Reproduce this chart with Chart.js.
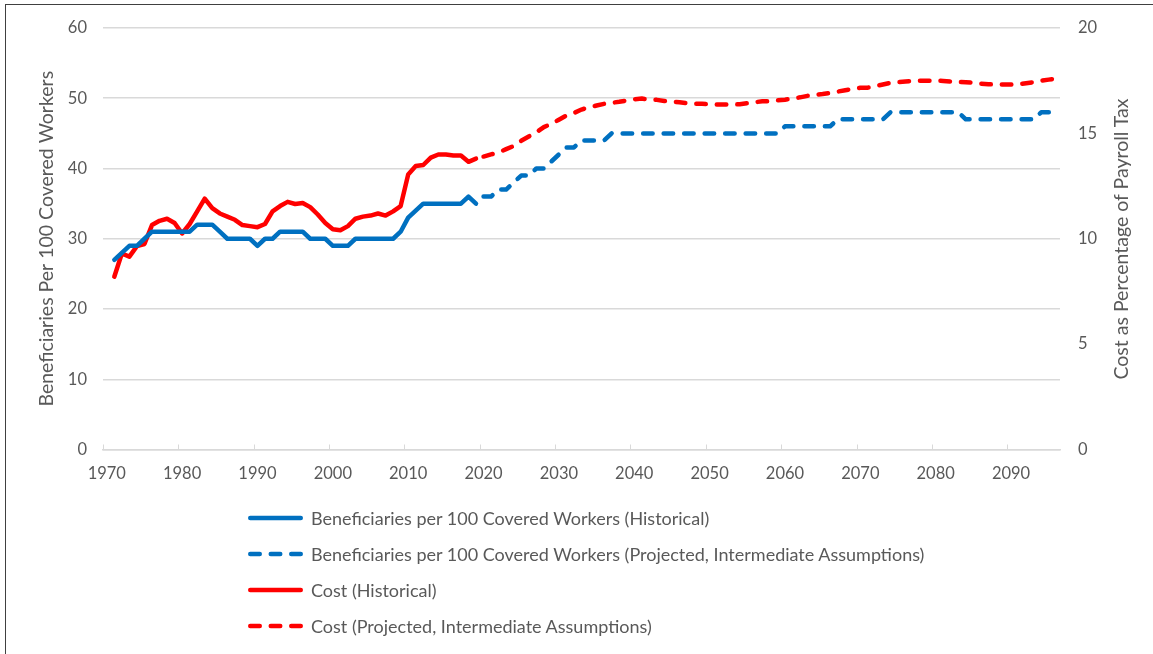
<!DOCTYPE html>
<html>
<head>
<meta charset="utf-8">
<script src="https://cdn.jsdelivr.net/npm/chart.js@4.4.1/dist/chart.umd.min.js"></script>
<style>
  html, body { margin: 0; padding: 0; background: #fff; }
  #wrap { position: relative; width: 1153px; height: 654px; overflow: hidden; font-family: Lato, "Open Sans", sans-serif; }
  #c { position: absolute; left: 0; top: 0; }
  #frame { position: absolute; left: 5px; top: 4px; width: 1160px; height: 700px; border: 1px solid #404040; box-sizing: border-box; pointer-events: none; }
  #rtitle { position: absolute; left: 1120px; top: 239px; transform: translate(-50%, -50%) rotate(-90deg); white-space: nowrap; color: #595959; font-size: 19.5px; }
  #legend { position: absolute; left: 248px; top: 500px; }
  .row { display: flex; align-items: center; height: 36px; }
  .row svg { display: block; margin-right: 7px; }
  .row span { color: #595959; font-size: 18px; white-space: nowrap; }
</style>
</head>
<body>
<div id="wrap">
  <canvas id="c" width="1153" height="654"></canvas>
  <div id="frame"></div>
  <div id="rtitle">Cost as Percentage of Payroll Tax</div>
  <div id="legend"></div>
</div>
<script>
// Categories (years)
const years = [1970,1971,1972,1973,1974,1975,1976,1977,1978,1979,
  1980,1981,1982,1983,1984,1985,1986,1987,1988,1989,
  1990,1991,1992,1993,1994,1995,1996,1997,1998,1999,
  2000,2001,2002,2003,2004,2005,2006,2007,2008,2009,
  2010,2011,2012,2013,2014,2015,2016,2017,2018,2019,
  2020,2021,2022,2023,2024,2025,2026,2027,2028,2029,
  2030,2031,2032,2033,2034,2035,2036,2037,2038,2039,
  2040,2041,2042,2043,2044,2045,2046,2047,2048,2049,
  2050,2051,2052,2053,2054,2055,2056,2057,2058,2059,
  2060,2061,2062,2063,2064,2065,2066,2067,2068,2069,
  2070,2071,2072,2073,2074,2075,2076,2077,2078,2079,
  2080,2081,2082,2083,2084,2085,2086,2087,2088,2089,
  2090,2091,2092,2093,2094,2095,2096];

const histStart = 1971;   // first historical year
const projStart = 2020;   // first projected year

// Beneficiaries per 100 covered workers, historical 1971-2019
const benefHist = [27,28,29,29,30,31,31,31,31,31,
  31,32,32,32,31,30,30,30,30,29,
  30,30,31,31,31,31,30,30,30,29,
  29,29,30,30,30,30,30,30,31,33,
  34,35,35,35,35,35,35,36,35];

// Beneficiaries per 100 covered workers, projected 2020-2096
const benefProj = [36,36,37,37,38,39,39,40,40,41,
  42,43,43,44,44,44,44,45,45,45,
  45,45,45,45,45,45,45,45,45,45,
  45,45,45,45,45,45,45,45,45,45,
  46,46,46,46,46,46,46,47,47,47,
  47,47,47,47,48,48,48,48,48,48,
  48,48,48,48,47,47,47,47,47,47,
  47,47,47,47,48,48,48];

// Cost as % of payroll tax, historical 1971-2019
const costHist = [8.2,9.3,9.15,9.65,9.75,10.65,10.85,10.95,10.75,10.25,
  10.7,11.3,11.9,11.45,11.2,11.05,10.9,10.65,10.6,10.55,
  10.7,11.3,11.55,11.75,11.65,11.7,11.5,11.15,10.75,10.45,
  10.4,10.6,10.95,11.05,11.1,11.2,11.1,11.3,11.55,13.05,
  13.45,13.5,13.85,14.0,14.0,13.95,13.95,13.65,13.8];

// Cost as % of payroll tax, projected 2020-2096
const costProj = [13.9,14.0,14.1,14.25,14.4,14.65,14.85,15.05,15.3,15.45,
  15.65,15.85,15.97,16.13,16.24,16.32,16.4,16.45,16.5,16.56,
  16.62,16.65,16.6,16.59,16.54,16.51,16.48,16.43,16.41,16.4,
  16.38,16.37,16.37,16.37,16.38,16.43,16.48,16.52,16.53,16.57,
  16.6,16.65,16.71,16.78,16.83,16.87,16.92,16.98,17.05,17.11,
  17.16,17.17,17.24,17.32,17.4,17.43,17.46,17.49,17.5,17.5,
  17.5,17.49,17.46,17.44,17.43,17.4,17.36,17.33,17.32,17.32,
  17.32,17.33,17.38,17.43,17.5,17.55,17.6];

const leftTicks = [0,10,20,30,40,50,60];
const rightTicks = [0,5,10,15,20];

const seriesNames = [
  'Beneficiaries per 100 Covered Workers (Historical)',
  'Beneficiaries per 100 Covered Workers (Projected, Intermediate Assumptions)',
  'Cost (Historical)',
  'Cost (Projected, Intermediate Assumptions)'
];

function place(values, startYear) {
  return years.map(y => {
    const i = y - startYear;
    return (i >= 0 && i < values.length) ? values[i] : null;
  });
}

const BLUE = '#0070C0', RED = '#FF0000', GRID = '#D9D9D9', TXT = '#595959';
const LW = 4.5, DASH = [9.5, 11];
const FONT = 'Lato';

const insideTicks = {
  id: 'insideTicks',
  beforeDatasetsDraw(chart) {
    const s = chart.scales.x, ctx = chart.ctx;
    const half = (s.getPixelForValue(1) - s.getPixelForValue(0)) / 2;
    ctx.save();
    ctx.strokeStyle = GRID; ctx.lineWidth = 1;
    years.forEach((y, i) => {
      if (y % 10 !== 0) return;
      const x = Math.round(s.getPixelForValue(i) - half) + 0.5;
      ctx.beginPath(); ctx.moveTo(x, s.top); ctx.lineTo(x, s.top - 5); ctx.stroke();
    });
    ctx.restore();
  }
};

const chart = new Chart(document.getElementById('c'), {
  type: 'line',
  data: {
    labels: years,
    datasets: [
      { label: seriesNames[0], data: place(benefHist, histStart), yAxisID: 'y', borderColor: BLUE, borderWidth: LW, borderCapStyle: 'round', borderJoinStyle: 'round', pointRadius: 0, tension: 0, spanGaps: false },
      { label: seriesNames[1], data: place(benefProj, projStart), yAxisID: 'y', borderColor: BLUE, borderWidth: LW, borderDash: DASH, borderCapStyle: 'round', borderJoinStyle: 'round', pointRadius: 0, tension: 0 },
      { label: seriesNames[2], data: place(costHist, histStart), yAxisID: 'y1', borderColor: RED, borderWidth: LW, borderCapStyle: 'round', borderJoinStyle: 'round', pointRadius: 0, tension: 0 },
      { label: seriesNames[3], data: place(costProj, projStart), yAxisID: 'y1', borderColor: RED, borderWidth: LW, borderDash: DASH, borderCapStyle: 'round', borderJoinStyle: 'round', pointRadius: 0, tension: 0 }
    ]
  },
  options: {
    responsive: false,
    animation: false,
    devicePixelRatio: 1,
    layout: { padding: { top: 28, bottom: 164.5, left: 0, right: 0 } },
    plugins: { legend: { display: false }, tooltip: { enabled: false } },
    scales: {
      x: {
        type: 'category',
        offset: true,
        grid: { display: false, drawTicks: false, offset: true },
        border: { display: true, color: GRID, width: 1.5 },
        ticks: {
          autoSkip: false, maxRotation: 0, minRotation: 0, padding: 14,
          color: TXT, font: { family: FONT, size: 16.5 },
          callback: (v, i) => (years[i] % 10 === 0 ? String(years[i]) : '')
        },
        afterFit: s => { s.height = 40; }
      },
      y: {
        position: 'left', min: 0, max: 60,
        afterBuildTicks: s => { s.ticks = leftTicks.map(v => ({ value: v })); },
        grid: { color: GRID, lineWidth: 1.5, drawTicks: false },
        border: { display: false },
        ticks: { padding: 16, color: TXT, font: { family: FONT, size: 16.5 } },
        title: { display: true, text: 'Beneficiaries Per 100 Covered Workers', color: TXT, font: { family: FONT, size: 19.5 }, padding: { top: 35, bottom: 0 } },
        afterFit: s => { s.width = 103; }
      },
      y1: {
        position: 'right', min: 0, max: 20,
        afterBuildTicks: s => { s.ticks = rightTicks.map(v => ({ value: v })); },
        grid: { drawOnChartArea: false, drawTicks: false },
        border: { display: false },
        ticks: { padding: 18, color: TXT, font: { family: FONT, size: 16.5 } },
        afterFit: s => { s.width = 93; }
      }
    }
  },
  plugins: [insideTicks]
});

// HTML legend built from the chart's datasets
const leg = document.getElementById('legend');
chart.data.datasets.forEach(ds => {
  const row = document.createElement('div');
  row.className = 'row';
  const dashed = ds.borderDash && ds.borderDash.length;
  row.innerHTML =
    '<svg width="56" height="10"><line x1="2.25" y1="5" x2="52.75" y2="5" stroke="' + ds.borderColor +
    '" stroke-width="' + LW + '" stroke-linecap="round"' + (dashed ? ' stroke-dasharray="' + DASH.join(' ') + '"' : '') +
    '/></svg><span></span>';
  row.querySelector('span').textContent = ds.label;
  leg.appendChild(row);
});
</script>
</body>
</html>
